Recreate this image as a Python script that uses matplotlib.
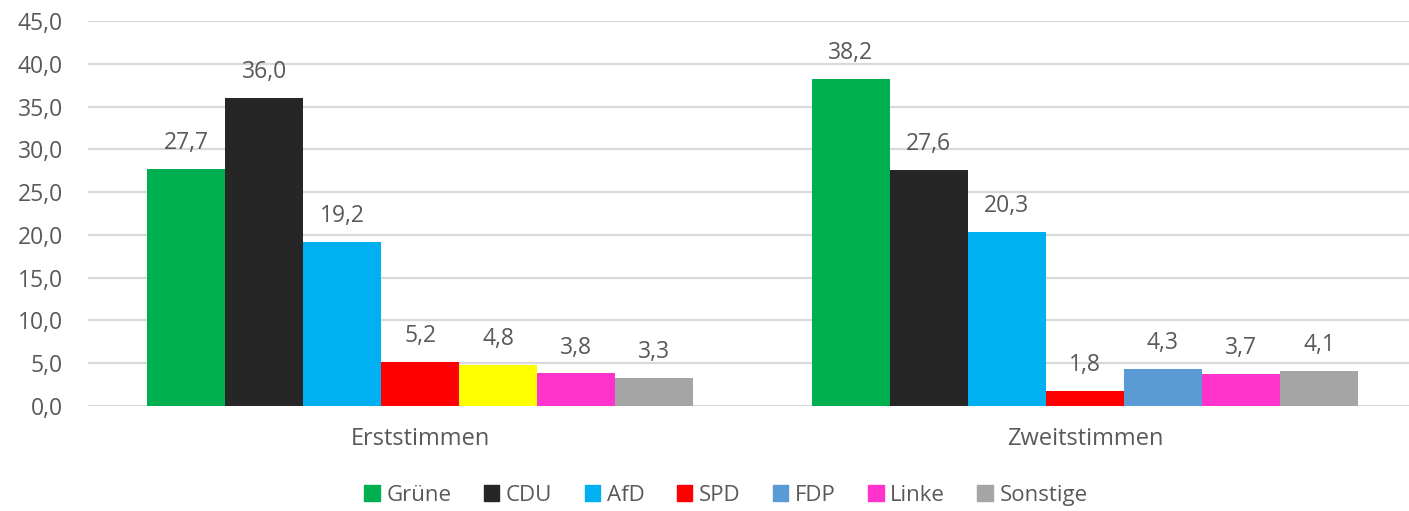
import numpy as np
import matplotlib
matplotlib.use("Agg")
from matplotlib import pyplot as plt
from matplotlib.patches import Patch

plt.rcParams['font.family'] = ['Open Sans', 'DejaVu Sans']

categories = ['Erststimmen', 'Zweitstimmen']
parties = ['Grüne', 'CDU', 'AfD', 'SPD', 'FDP', 'Linke', 'Sonstige']
values = {
    'Grüne': [27.7, 38.2],
    'CDU': [36.0, 27.6],
    'AfD': [19.2, 20.3],
    'SPD': [5.2, 1.8],
    'FDP': [4.8, 4.3],
    'Linke': [3.8, 3.7],
    'Sonstige': [3.3, 4.1],
}
colors = {
    'Grüne': '#00B050',
    'CDU': '#262626',
    'AfD': '#00B0F0',
    'SPD': '#FF0000',
    'FDP': '#5B9BD5',
    'Linke': '#FF33CC',
    'Sonstige': '#A5A5A5',
}
# the FDP bar in Erststimmen is coloured yellow in the original
point_colors = {('FDP', 0): '#FFFF00'}

text_color = '#595959'
grid_color = '#D9D9D9'

fig = plt.figure(figsize=(14.09, 5.11), dpi=100)
ax = fig.add_axes([88 / 1409, 105 / 511, (1409 - 88) / 1409, 385 / 511])

x = np.arange(len(categories))
width = 0.1174
n = len(parties)

for i, p in enumerate(parties):
    offs = (i - (n - 1) / 2) * width
    cols = [point_colors.get((p, j), colors[p]) for j in range(len(categories))]
    bars = ax.bar(x + offs, values[p], width, color=cols, zorder=3)
    for b, v in zip(bars, values[p]):
        ax.annotate(f"{v:.1f}".replace('.', ','),
                    (b.get_x() + b.get_width() / 2, b.get_height()),
                    xytext=(0, 10), textcoords='offset points',
                    ha='center', va='bottom', fontsize=16.5, color=text_color)

ax.set_ylim(0, 45)
ax.set_yticks(np.arange(0, 46, 5))
ax.set_yticklabels([f"{t:.1f}".replace('.', ',') for t in np.arange(0, 46, 5)])
ax.set_xlim(-0.5, 1 + (1409 - 1085) / 664.5)
ax.set_xticks(x)
ax.set_xticklabels(categories)

ax.grid(axis='y', color=grid_color, linewidth=1.6, zorder=0)
for s in ax.spines.values():
    s.set_visible(False)
ax.tick_params(axis='y', length=0, pad=18, labelsize=16.5, labelcolor=text_color)
ax.tick_params(axis='x', length=0, pad=15, labelsize=17, labelcolor=text_color)

handles = [Patch(color=colors[p], label=p) for p in parties]
fig.legend(handles=handles, loc='center', bbox_to_anchor=(726 / 1409, 1 - 495 / 511),
           ncol=n, frameon=False, fontsize=16, handlelength=0.7, handleheight=0.7,
           handletextpad=0.3, columnspacing=1.45, labelcolor=text_color)

plt.savefig("out.png", dpi=100)
